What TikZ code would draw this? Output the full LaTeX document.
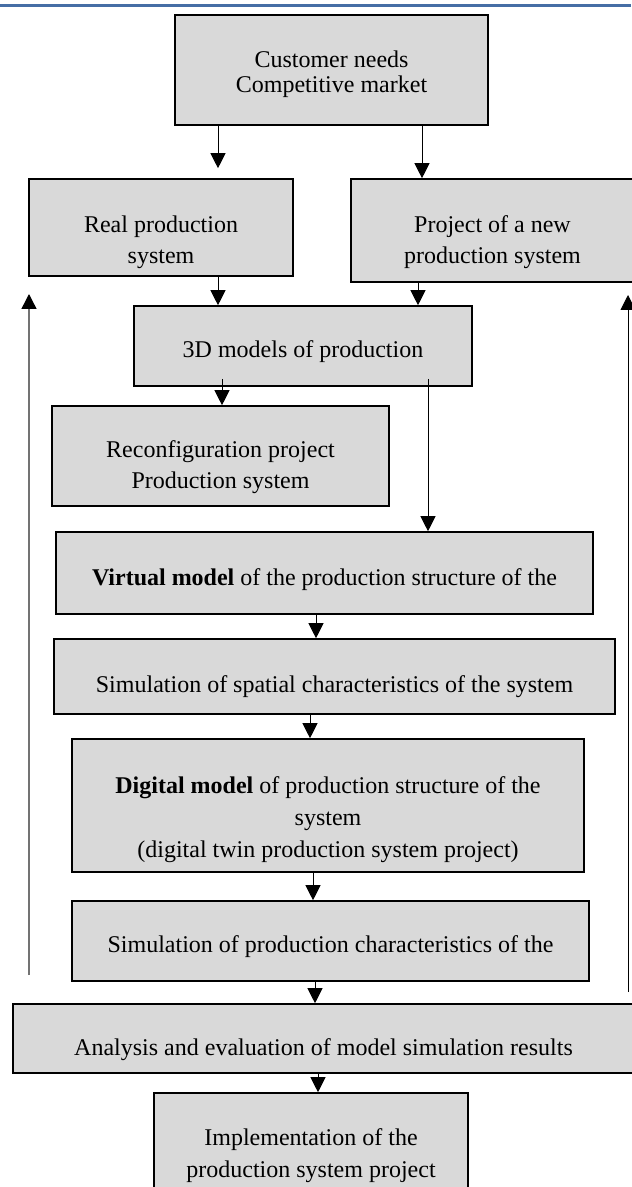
\documentclass[tikz,border=0pt]{standalone}
\usepackage{fontspec}
\setmainfont{Liberation Serif}
\usetikzlibrary{arrows.meta}
\definecolor{boxgray}{RGB}{217,217,217}
\definecolor{headblue}{RGB}{70,110,165}
\tikzset{
  box/.style={draw, line width=0.8pt, fill=boxgray, inner sep=0pt},
  txt/.style={align=center, font=\fontsize{12}{15.5}\selectfont},
  arr/.style={line width=0.5pt, -{Triangle[width=7.5pt,length=7.5pt,color=black]}},
}
\begin{document}
\begin{tikzpicture}[x=0.5pt,y=-0.5pt]
  \useasboundingbox (0,0) rectangle (631,1187);
  \draw[headblue, line width=1.7pt] (0,5.5) -- (631,5.5);

  \node[box, minimum width=156.5pt, minimum height=55pt,
    label={[txt, font=\fontsize{12}{12.5}\selectfont, yshift=-2.25pt]center:Customer needs\\Competitive market}] (cust) at (331.5,70) {};
  \node[box, minimum width=132pt, minimum height=48.5pt,
    label={[txt, yshift=-7.5pt]center:Real production\\system}] (real) at (161,227.5) {};
  \node[box, minimum width=141.5pt, minimum height=51.5pt,
    label={[txt, yshift=-6pt]center:Project of a new\\production system}] (proj) at (492.5,230.5) {};
  \node[box, minimum width=169pt, minimum height=40pt,
    label={[txt, yshift=-3pt]center:3D models of production}] (models) at (303,346) {};
  \node[box, minimum width=168.5pt, minimum height=50pt,
    label={[txt, yshift=-5.75pt]center:Reconfiguration project\\Production system}] (reconf) at (220.5,456) {};
  \node[box, minimum width=268.5pt, minimum height=41pt,
    label={[txt, yshift=-3.5pt]center:\textbf{Virtual model} of the production structure of the}] (virt) at (324.5,573) {};
  \node[box, minimum width=280.5pt, minimum height=37.5pt,
    label={[txt, yshift=-5.25pt]center:Simulation of spatial characteristics of the system}] (spat) at (334.5,676.5) {};
  \node[box, minimum width=256pt, minimum height=66.5pt,
    label={[txt, font=\fontsize{12}{16}\selectfont, yshift=-7.25pt]center:\textbf{Digital model} of production structure of the\\system\\(digital twin production system project)}] (digi) at (328,805.5) {};
  \node[box, minimum width=258.5pt, minimum height=40pt,
    label={[txt, yshift=-3pt]center:Simulation of production characteristics of the}] (simp) at (330.5,941) {};
  \node[box, minimum width=310.5pt, minimum height=34.5pt,
    label={[txt, yshift=-5.75pt]center:Analysis and evaluation of model simulation results}] (anal) at (323.5,1038.5) {};
  \node[box, minimum width=157pt, minimum height=51pt,
    label={[txt, font=\fontsize{12}{16}\selectfont, yshift=-6pt]center:Implementation of the\\production system project}] (impl) at (311,1144) {};

  \draw[arr, shorten >=5pt] (cust.south -| 218,0) -- (real.north -| 218,0);
  \draw[arr] (cust.south -| 422,0) -- (proj.north -| 422,0);
  \draw[arr] (real.south -| 218,0) -- (models.north -| 218,0);
  \draw[arr] (proj.south -| 418,0) -- (models.north -| 418,0);
  \draw[arr, shorten <=-4pt] (models.south -| 222,0) -- (reconf.north -| 222,0);
  \draw[arr, shorten <=-4pt] (models.south -| 428,0) -- (virt.north -| 428,0);
  \draw[arr] (virt.south -| 316,0) -- (spat.north -| 316,0);
  \draw[arr] (spat.south -| 310,0) -- (digi.north -| 310,0);
  \draw[arr] (digi.south -| 313,0) -- (simp.north -| 313,0);
  \draw[arr] (simp.south -| 315,0) -- (anal.north -| 315,0);
  \draw[arr] (anal.south -| 318,0) -- (impl.north -| 318,0);

  \coordinate (backL) at (29,975);
  \coordinate (topL) at (29,294);
  \coordinate (backR) at (628,992);
  \coordinate (topR) at (628,295);
  \draw[arr, draw=black!55, line width=0.7pt] (backL) -- (topL);
  \draw[arr] (backR) -- (topR);
\end{tikzpicture}
\end{document}
